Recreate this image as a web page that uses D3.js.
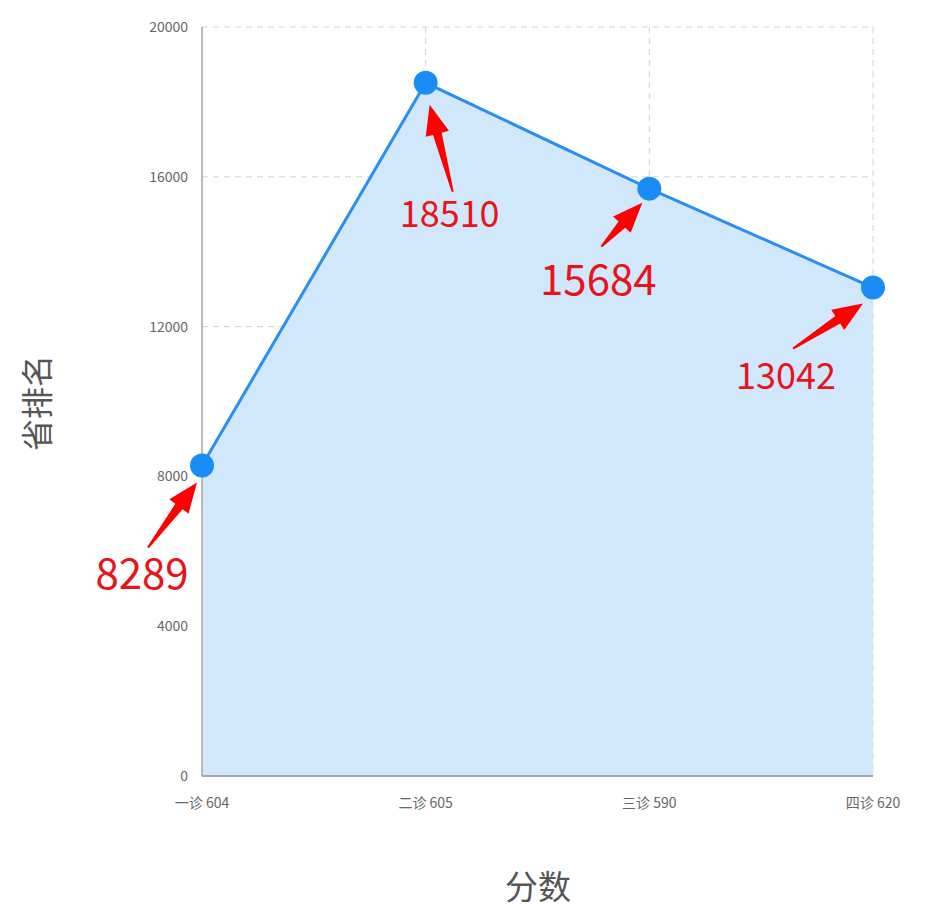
<!DOCTYPE html>
<html>
<head>
<meta charset="utf-8">
<script src="https://cdn.jsdelivr.net/npm/d3@7"></script>
<style>
  body { margin: 0; background: #fff; }
  text { font-family: "Noto Sans CJK SC", "Noto Sans", sans-serif; }
</style>
</head>
<body>
<div id="chart"></div>
<script>
// data
const categories = ["一诊 604", "二诊 605", "三诊 590", "四诊 620"];
const ranks = [8289, 18510, 15684, 13042];
const yTicks = [0, 4000, 8000, 12000, 16000, 20000];

// annotation arrows (offsets from the point, px)
const arrowTip = [[-5, 17], [4, 22], [-7, 14], [-10, 16]];
const arrowTail = [[-54, 82], [27, 109], [-48, 58], [-80, 61]];
const labelOff = [[-60, 123], [24, 144], [-51, 106], [-87, 101]];
const labelSize = [42, 36, 42, 36];

const width = 946, height = 924;
const margin = { left: 202, right: 73, top: 27, bottom: 148 };

const svg = d3.select("#chart").append("svg")
    .attr("width", width)
    .attr("height", height);

const x = d3.scalePoint()
    .domain(categories)
    .range([margin.left, width - margin.right]);

const y = d3.scaleLinear()
    .domain([0, 20000])
    .range([height - margin.bottom, margin.top]);

// grid
svg.append("g")
    .selectAll("line.h")
    .data(yTicks.filter(d => d > 0))
    .enter().append("line")
    .attr("x1", margin.left).attr("x2", width - margin.right)
    .attr("y1", d => y(d)).attr("y2", d => y(d))
    .attr("stroke", "#d3d3d3")
    .attr("stroke-dasharray", "6,5");

svg.append("g")
    .selectAll("line.v")
    .data(categories.slice(1))
    .enter().append("line")
    .attr("x1", d => x(d)).attr("x2", d => x(d))
    .attr("y1", margin.top).attr("y2", y(0))
    .attr("stroke", "#d3d3d3")
    .attr("stroke-dasharray", "6,5");

// area + line
const pts = categories.map((c, i) => [c, ranks[i]]);

svg.append("path")
    .datum(pts)
    .attr("fill", "#d1e7fc")
    .attr("d", d3.area()
        .x(d => x(d[0]))
        .y0(y(0))
        .y1(d => y(d[1])));

// axes lines
svg.append("line")
    .attr("x1", margin.left).attr("x2", margin.left)
    .attr("y1", margin.top).attr("y2", y(0))
    .attr("stroke", "#a6a6a6").attr("stroke-width", 1.5);

svg.append("line")
    .attr("x1", margin.left).attr("x2", width - margin.right)
    .attr("y1", y(0)).attr("y2", y(0))
    .attr("stroke", "#a0a8b8").attr("stroke-width", 2);

svg.append("path")
    .datum(pts)
    .attr("fill", "none")
    .attr("stroke", "#2a8ff0")
    .attr("stroke-width", 3)
    .attr("d", d3.line()
        .x(d => x(d[0]))
        .y(d => y(d[1])));

svg.append("g")
    .selectAll("circle")
    .data(pts)
    .enter().append("circle")
    .attr("cx", d => x(d[0]))
    .attr("cy", d => y(d[1]))
    .attr("r", 12)
    .attr("fill", "#1a8cf5");

// tick labels
svg.append("g")
    .selectAll("text")
    .data(yTicks)
    .enter().append("text")
    .attr("x", margin.left - 14)
    .attr("y", d => y(d) + 5)
    .attr("text-anchor", "end")
    .attr("font-size", 14)
    .attr("fill", "#666")
    .text(d => d);

svg.append("g")
    .selectAll("text")
    .data(categories)
    .enter().append("text")
    .attr("x", d => x(d))
    .attr("y", y(0) + 32)
    .attr("text-anchor", "middle")
    .attr("font-size", 14)
    .attr("fill", "#666")
    .text(d => d);

// axis titles
svg.append("text")
    .attr("transform", "translate(49,403) rotate(-90)")
    .attr("text-anchor", "middle")
    .attr("font-size", 32)
    .attr("fill", "#555")
    .text("省排名");

svg.append("text")
    .attr("x", 538)
    .attr("y", 899)
    .attr("text-anchor", "middle")
    .attr("font-size", 33)
    .attr("fill", "#555")
    .text("分数");

// arrows
function arrowPath(tail, tip) {
  const dx = tip[0] - tail[0], dy = tip[1] - tail[1];
  const len = Math.hypot(dx, dy);
  const ux = dx / len, uy = dy / len;
  const nx = -uy, ny = ux;
  const headLen = 30, headW = 12, shaftW = 4.5, tailW = 1;
  const bx = tip[0] - ux * headLen, by = tip[1] - uy * headLen;
  const p = [
    [tail[0] + nx * tailW, tail[1] + ny * tailW],
    [bx + nx * shaftW, by + ny * shaftW],
    [bx + nx * headW, by + ny * headW],
    tip,
    [bx - nx * headW, by - ny * headW],
    [bx - nx * shaftW, by - ny * shaftW],
    [tail[0] - nx * tailW, tail[1] - ny * tailW]
  ];
  return "M" + p.map(q => q.join(",")).join("L") + "Z";
}

const ann = svg.append("g");
pts.forEach((d, i) => {
  const px = x(d[0]), py = y(d[1]);
  const tip = [px + arrowTip[i][0], py + arrowTip[i][1]];
  const tail = [px + arrowTail[i][0], py + arrowTail[i][1]];
  ann.append("path")
      .attr("d", arrowPath(tail, tip))
      .attr("fill", "#ff0000");
  ann.append("text")
      .attr("x", px + labelOff[i][0])
      .attr("y", py + labelOff[i][1])
      .attr("text-anchor", "middle")
      .attr("font-size", labelSize[i])
      .attr("fill", "#e8141c")
      .text(d[1]);
});
</script>
</body>
</html>
